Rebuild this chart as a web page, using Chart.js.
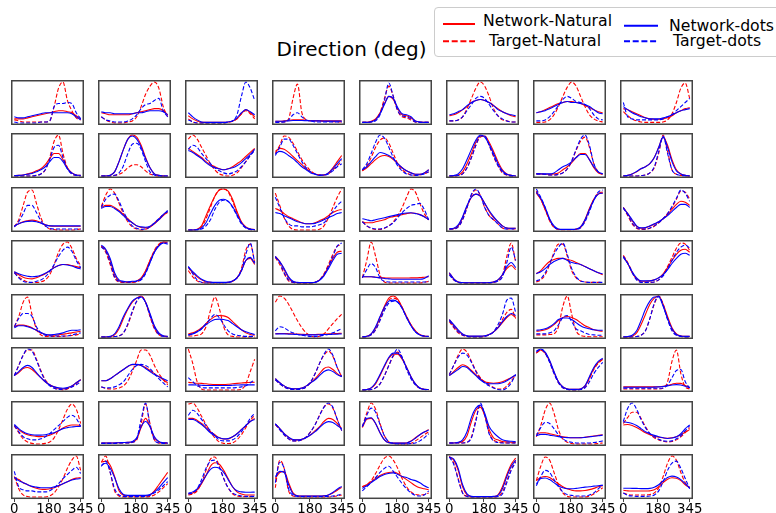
<!DOCTYPE html>
<html>
<head>
<meta charset="utf-8">
<script src="https://cdn.jsdelivr.net/npm/chart.js@4"></script>
<style>
  body { margin: 0; width: 776px; height: 513px; overflow: hidden; position: relative; background: #fff;
         font-family: 'DejaVu Sans', sans-serif; }
  .panel { position: absolute; }
  #title { position: absolute; left: 0; top: 37px; width: 703px; text-align: center; font-size: 20px; line-height: 24px; color: #000; }
  #legend { position: absolute; left: 434px; top: 7px; width: 400px; height: 50px; box-sizing: border-box;
            border: 1px solid #ccc; border-radius: 4px; background: #fff; }
  #legend span { position: absolute; font-size: 15.7px; line-height: 18px; color: #000; white-space: nowrap; }
</style>
</head>
<body>
<div id="title">Direction (deg)</div>
<div id="legend">
  <svg width="400" height="50" style="position:absolute;left:-1px;top:-1px">
    <line x1="9" y1="17" x2="41" y2="17" stroke="#ff0000" stroke-width="2"/>
    <line x1="9" y1="34.3" x2="41" y2="34.3" stroke="#ff0000" stroke-width="2" stroke-dasharray="6,2.7"/>
    <line x1="190" y1="18.7" x2="224" y2="18.7" stroke="#0000ff" stroke-width="2"/>
    <line x1="190" y1="34.3" x2="224" y2="34.3" stroke="#0000ff" stroke-width="2" stroke-dasharray="6,2.7"/>
  </svg>
  <span id="lg0" style="left:48px;top:4px"></span>
  <span id="lg1" style="left:54px;top:24px"></span>
  <span id="lg2" style="left:234px;top:9px"></span>
  <span id="lg3" style="left:238px;top:24px"></span>
</div>
<script>
// sampled directions (deg) and axis ticks
var directions = [0, 23, 46, 69, 92, 115, 138, 161, 184, 207, 230, 253, 276, 299, 322, 345];
var xTicks = [0, 180, 345];
var legendLabels = ['Network-Natural', 'Target-Natural', 'Network-dots', 'Target-dots'];

// responses per panel (row-major, 8x8), scaled 0..20
var networkNatural = [
  // row 1
  [2,2,2,2.5,3,3.5,4,4.5,5,5.5,6,6,5.5,5,3.5,2],
  [5,4.5,4,4,4,4,4,4.5,5,5.5,6,6.5,7,7,6,4],
  [3.5,2,1,0.3,0.3,0.3,0.3,0.3,0.3,0.5,1,2,4.5,6.5,5,3],
  [0.8,0.8,1,1.3,1.5,1.5,1.5,1.3,1.2,1.2,1.1,1,1,1,1,1],
  [0.3,0.3,0.8,2,5,9.5,13,11.5,7,4,3.5,2.5,1,0.5,0.3,0.3],
  [3.5,4,5,6.5,8,10,11,11.5,11,10,8.5,7,5.5,4.5,3.5,3],
  [5,5.5,6.5,7.5,8.5,9.5,10,10.5,10.5,10,9.5,8.5,7.5,6.5,5.5,5],
  [7,6.5,5.5,4.5,3.5,2.5,2,1.8,1.8,2,2.5,3.5,5,6,7,7.5],
  // row 2
  [0.2,0.3,0.5,1,1.5,2.5,3.5,5.5,8.5,11,11,8,4,1.5,0.5,0.3],
  [0,0,0.3,2,7,13,18,20,19,15,9,4,1,0.3,0,0],
  [13.5,12,10.5,9,7,5.5,4.5,3.5,3,3.5,4.5,6,7.5,9.5,11.5,13.5],
  [12,13.5,13,11.5,9.5,7.5,5.5,3.5,2,1,0.5,0.5,1.5,4,7,10],
  [2.5,4,6,8,9.5,10,9.5,8,6,4,2.5,1.5,0.8,0.8,1.5,3],
  [0,0,0.5,2,6,11,16.5,19.5,19.5,16.5,12,7,3,1,0.3,0],
  [1,1,0.8,0.8,1,1.5,3,4.5,6.5,9,11,11,8,4,1.5,0.8],
  [0,0.3,1,2,3.5,4.5,6,9,14,19,15,8,3,1,0.3,0],
  // row 3
  [2,3,4,4.5,4.8,4.5,3.5,2.5,2,1.8,1.8,1.8,1.8,1.8,1.8,1.8],
  [11,12,12,11,9.5,7.5,5.5,3.5,2,1.2,1,1.5,3,5,7,9],
  [0,0,0.3,2,7,12,16.5,19.5,20,19,15,9,4,1.5,0.5,0.2],
  [10.5,9.5,8,6.5,5.5,4.5,3.5,3,3,3.5,4.5,5.5,7,8.5,9.5,10],
  [4,3.5,3.5,4,4.5,5,6,6.5,7,7.5,8,8.3,8.2,7.5,6.5,5],
  [0.5,0.6,2,6,11.5,16,17.5,16.5,13,9,6,4,2,1,0.8,0.8],
  [18,15,10,5,1.5,0.3,0.2,0.2,0.2,0.3,1.5,5,10.5,15,17.5,18],
  [11,8,4.5,1.8,0.8,1,1.8,2.8,4,5.5,7.5,10,12.5,14,13.5,12],
  // row 4
  [5.5,4,2.8,2.2,2,2.5,3.5,4.5,6,7.5,8.5,9,9,8.5,8,7.5],
  [18,16,11,4,1,0.5,0.5,0.5,1,2.5,6,11,15.5,18.5,20,20],
  [7.5,5,3,1.5,0.5,0.3,0.2,0.2,0.2,0.3,1,2.5,6,11,12,9],
  [13,10.5,6.5,2.5,0.5,0.2,0,0,0,0.3,1.5,4,8,12,15,15.5],
  [3,3,3,2.8,2.6,2.5,2.4,2.4,2.4,2.4,2.4,2.5,2.5,2.6,2.8,3],
  [5,2,0.5,0.2,0.1,0.1,0.1,0.1,0.1,0.2,0.5,1.5,4,7,8.5,6.5],
  [4.5,6,8.5,10.5,11.5,12,12,11.5,11,10,9,8,7,6,5,4],
  [13,9.5,5,2,1,0.8,1,1.5,2.5,4.5,7.5,11,14,16,16.5,15],
  // row 5
  [5,5.8,5.8,5.3,4.5,3.2,2,1.2,0.8,0.8,1,1.3,1.7,2,2.4,2.8],
  [0,0,0.2,1,4,9,13.5,17,19,20,17,11,5,1.5,0.5,0.2],
  [1.5,2,3,4.5,6.5,8.5,10,10.5,10.3,9.5,7.5,5.5,3.5,2,1.2,0.8],
  [1.6,1.7,1.7,1.6,1.5,1.4,1.3,1.2,1.2,1.2,1.3,1.4,1.5,1.6,1.7,1.8],
  [0,0.3,1.5,4.5,9.5,15,19,20,18.5,14.5,10,6,3,1.2,0.5,0.3],
  [8.5,5.5,3,1.3,0.5,0.3,0.3,0.3,0.5,1.2,2.5,4.5,7,9.5,11,9.5],
  [2.8,3,3.5,4.5,6,8,9.5,10,9.5,8.5,7,5.5,4.5,3.5,3,2.8],
  [0,0,0.3,2,6,11,16,19,20,16,10,4.5,1.5,0.5,0.3,0.3],
  // row 6
  [7,8.5,10.5,11,10,8,6,4,2.5,1.5,0.8,0.5,1,2,3.5,5],
  [4.5,4.5,5.5,7,8.5,10,11.5,12.3,12.3,12,11,9.5,8,6.5,5,3.5],
  [3.7,3.5,3.3,3.2,3,2.8,2.7,2.7,2.7,2.8,3,3.2,3.4,3.6,3.7,3.8],
  [5.5,3.5,2,1,0.6,0.6,1,2,3.5,5.5,8,10.5,11.2,10,8,6.5],
  [0,0.2,1,3,7,11.5,15.5,17.5,17.5,15,11,6.5,3,1,0.3,0.2],
  [7,9,11,12.3,11.5,9.5,7.5,5.5,4,3.5,3.3,3.5,4,5,6,7.3],
  [18,19.5,18,14,8.5,4,1.5,0.5,0.3,0.3,0.5,2,6,10.5,13.5,15],
  [1.5,1.5,1.5,1.5,1.5,1.5,1.5,1.5,1.6,1.8,2.2,2.8,3.3,3.2,2.2,1.2],
  // row 7
  [8.5,7,5.5,4.5,4,3.7,3.6,3.8,4.3,5.2,6.5,7.8,8.8,9.3,9.3,9],
  [0.5,0.5,0.5,0.5,0.6,0.7,0.8,1,2.5,8,12.5,8.5,3,1,0.6,0.5],
  [12.5,12.5,11.5,10,8,6,4.5,3,2.4,2.5,3.5,5,7,9,11,12.5],
  [9.8,7.5,5,3.3,2,2,2.3,3.2,4.5,6.5,8.5,11,12.5,12,10,7.5],
  [8,12,12.5,10,5.5,2,0.6,0.4,0.4,0.4,0.5,1.5,3,4.5,5.8,7],
  [0.5,0.5,0.7,1.2,4,11,16.5,18,14,7,3,2,1.2,1,0.8,0.7],
  [4.8,5.5,5.5,5,4.5,4,3.5,3.2,3,3,3.1,3.3,3.6,3.9,4.2,4.5],
  [9.3,9.5,9,8,6.8,5.5,4.5,3.8,3.3,3,2.8,3,3.5,4.5,5.8,7],
  // row 8
  [9.5,8.5,7,6,5,4.3,3.8,3.7,4,4.5,5.5,6.5,7.5,8.5,9.2,9.5],
  [17,17.5,15.5,10,3,0.8,0.5,0.5,0.5,0.5,0.5,1,3,6,9,12],
  [1.5,2,3.5,6.5,10.5,15,16.7,16,13,9,5,2.5,1.5,1,1,1],
  [9,12,12.5,7,2,0.6,0.5,0.5,0.5,0.5,0.5,0.6,1,2,3.3,4.7],
  [5,6,7.5,9,10.5,11.5,12,12.2,11.5,10,8.5,7,5.5,4.5,4,3.5],
  [19.5,18,13,5,1,0.2,0.1,0.1,0.1,0.1,0.2,1,5,11,16,19],
  [8,9.5,10,9.5,8,6.5,5,4,3.3,3,3,3.2,3.6,4.2,5,5.5],
  [3.3,3,2.9,2.9,2.9,2.9,3,3.5,5,7,8.7,9.4,9.2,8,6,4.5]
];

var targetNatural = [
  // row 1
  [1.5,1,0.5,0.5,0.5,0.5,0.5,0.5,1,8,17,20,11,6,2.5,1.5],
  [3,1.5,0.5,0,0,0,0.5,1,3,8,14,18,20,17,8,3],
  [2,0.5,0,0,0,0,0,0,0,0.3,0.8,2,4.5,6,4.5,2],
  [0.5,0.5,0.5,2,12,19,5,1.5,1,1,1,0.8,0.7,0.6,0.5,0.5],
  [0.3,0.3,0.5,1.5,5,12,18,13,6,3,2.5,1.5,0.5,0.3,0.3,0.3],
  [1,1,1.5,3,7,12,17,20,18,13,7,3.5,1.5,1,0.5,0.5],
  [0.3,0.3,0.5,1.5,4,8,13,17.5,20,18,13,8,4,2,1,0.5],
  [5.5,3.5,2,1,0.5,0.3,0.3,0.3,0.3,0.5,1.5,4.5,10,17,19.5,12],
  // row 2
  [0,0,0,0,0,0.3,1,3,9,17,20,11,4,1,0.3,0],
  [0,0,0,0.3,0.8,2,4,5.3,5.5,4.5,2.5,1,0.3,0,0,0],
  [18,20,18,14,10,6,3,1,0.3,0,0.3,1.5,4,7,10,13],
  [11,15,19.5,19,16,12,8,5,2.5,1,0.5,0.5,1,3,5,7.5],
  [2.5,5,9,14,17.5,18.5,16,11,6,3,1.5,0.5,0.3,0.5,1,2],
  [0,0,0.2,1,4,9,15,19,19.5,15,9.5,5,1.5,0.5,0,0],
  [1,1,0.8,0.5,0.5,0.8,1.5,3.5,7,12.5,17,19,14,6,2,0.8],
  [0,0,0,0,0.2,0.5,1.5,4,11,20,12,3,0.8,0.3,0,0],
  // row 3
  [1.5,5,12,18.5,19.5,13,6,2,0.5,0.2,0,0,0,0,0.2,0.5],
  [11.5,17,20,18,13,8,4,1.5,0.5,0,0.3,1.5,3.5,5.5,7.5,8.5],
  [0,0,0.2,1.5,5.5,11,16.5,19.5,20,18.5,14,8.5,3.5,1,0.3,0],
  [18,12,6,2,0.3,0,0,0,0,0,0.3,2,6,11,16,20],
  [4,2,0.8,0.3,0.3,0.8,2,4,7,11,16,20,18.5,13,8,5],
  [0.5,0.5,1.5,5,11,17,19.5,17,11,7,5,3,1,0.5,0.5,0.5],
  [19,15,10,4.5,1.3,0.2,0.1,0.1,0.1,0.3,1.2,4.5,10,15,18,18.5],
  [11,7,3,0.8,0.3,0.3,0.8,1.8,3.5,5.5,8,11,15,19,18.5,15],
  // row 4
  [5,3,1.5,0.5,0.2,0.2,0.5,1.5,4,9,15,19,20,17,12,8.5],
  [18,15,9,2.5,0.5,0.3,0.3,0.3,0.5,2,5.5,11,16,19,20,19.5],
  [6,3,1,0.2,0,0,0,0,0,0.2,0.8,2.5,7,16,19,10],
  [12.5,9,4.5,1,0.2,0,0,0,0,0.3,1.5,4.5,9,14,18,18.5],
  [2.5,11,20,13,4,0.5,0,0,0,0,0,0,0,0,0.3,0.8],
  [4.5,1.5,0.3,0,0,0,0,0,0,0,0.3,1,3.5,13,19.5,10],
  [0.5,1.5,4,9,15,19,19,13,6,2.5,1,0.5,0.3,0.3,0.3,0.3],
  [13.5,10,5.5,2,0.5,0.3,0.3,0.5,1.5,4,8,12.5,17,19.5,19,16],
  // row 5
  [5,10,17,19.5,11,4,1,0.3,0.2,0.2,0.2,0.3,0.5,0.7,1,1.5],
  [0,0,0,0.2,0.5,2,6,12,17.5,20,17,10,4,1,0.3,0],
  [0.5,0.5,0.8,1.5,5,13,19.5,14,5,1,0.3,0,0,0,0,0],
  [17,20,19,16,12,8,4.5,2,0.5,0,0.3,1.5,4,6.5,9,11],
  [0,0.2,1,3.5,8.5,14,18,19,18,14.5,10,6,3,1,0.3,0.2],
  [7.5,4.5,2,0.8,0.3,0,0,0,0.3,1,2.5,5,8.5,12,13.5,9],
  [1,1,1,1.2,1.5,5,15,20,11,3,0.8,0.3,0.1,0.1,0.1,0.1],
  [0,0,0,0.2,0.8,3,9,16,20,16,9,3.5,1,0.3,0,0],
  // row 6
  [7,12,17,19.5,19.5,15,9.5,5,2.5,1,0.3,0,0.5,1.5,3,5],
  [1.5,0.8,0.5,0.5,1,2,4.5,9,14.5,19.5,19.5,17,12,8,5,2.5],
  [20,13,4,0.5,0,0,0,0,0,0,0,0,0.3,3,9,15],
  [5,3,1.5,0.5,0.2,0.2,0.5,1.5,4,8,13,17,19,16.5,11,6.5],
  [0,0,0.2,1,3,7,12,16.5,18.5,16,11,6,2.5,0.8,0.2,0.1],
  [7.5,12,17,20,18.5,14,9.5,6,4,2.5,1.2,0.5,0.5,2,4.5,7],
  [18,19.5,18,14,8.5,3.5,1,0.3,0,0,0.3,1.5,5.5,10,13,15],
  [0.5,0.5,0.5,0.5,0.5,0.5,0.5,0.5,0.5,0.8,4,14,19.5,8,1.5,0.5],
  // row 7
  [9,5.5,2.5,1,0.3,0,0,0.3,1,3,7,12,17,19.5,17,10],
  [0.3,0.3,0.3,0.3,0.5,0.5,0.5,0.8,2,10,19.5,10,2,0.5,0.3,0.3],
  [19.5,20,17.5,13.5,9.5,6,3,1,0.3,0.2,0.5,2,4.5,8,11.5,14],
  [9.5,7,4.5,2.5,1.5,1.5,2,3.5,6,9.5,14,18,19.5,17.5,12,6.5],
  [8.5,15,20,17,10,4,1,0.2,0,0,0,0.3,1.5,3,4.5,6],
  [0.5,0.5,0.5,0.5,0.8,3.5,12,19,14,5.5,2,1,0.7,0.5,0.5,0.5],
  [3.5,9,16.5,20,15,7,2.5,0.8,0.2,0,0,0,0,0,0.2,0.5],
  [10,13,15.5,15.5,12.5,8.5,5,3,2,1.3,1,1.2,2,3.5,5.5,8],
  // row 8
  [10,4,1,0.2,0,0,0,0,0.5,2,5,9,14,18,20,13],
  [17,20,12,3,0.5,0,0,0,0,0,0,0.3,1,2.5,4.5,6.5],
  [1,1.5,3,7,13,18.5,19.5,15,9,4.5,1.5,0.5,0.2,0.2,0.2,0.2],
  [4.5,18,14,3,0.5,0.2,0,0,0,0,0,0,0,0.2,0.5,1],
  [5,6,8,11.5,15.5,19,20,18,14,9,5,2.5,1.2,1,1.2,2],
  [20,16.5,9,2,0.3,0,0,0,0,0,0,0.3,2.5,8,13.5,17.5],
  [8,15,19.5,18,12,6,2,0.3,0,0,0,0,0.5,1.5,3,4.5],
  [2,1.2,1,1,1,1,1.2,2,4.5,10,16.5,20,18,12,7,4.5]
];

var networkDots = [
  // row 1
  [3,2.5,2.5,3,3.5,4,4.5,5,5,5,5,5,5,4.5,3,1.5],
  [5.5,5,5,4.5,4.5,4.5,4.5,4.5,5,5,5.5,6,6,6,5.5,4],
  [5,3,1.5,0.5,0.3,0.3,0.3,0.3,0.3,0.5,1,2.5,5,6.5,5.5,4],
  [0.8,0.8,0.9,1,1.2,1.2,1.2,1.1,1,1,1,0.9,0.9,0.9,0.9,0.9],
  [0.3,0.3,0.6,1.5,4.5,9,13,12,7.5,4.5,4,3,1,0.5,0.3,0.3],
  [4,4.5,5.5,6.5,8.5,10,11,11.5,11,10,8.5,6.5,5.5,4.5,4,3.5],
  [5,5.5,6,7,8,9,10,10.5,10,10,9.5,9,8,6.5,5,4.5],
  [8,6.5,5,4,3,2.5,2,2,2,2.5,3,4,5,6,6.5,7],
  // row 2
  [0.2,0.3,0.5,0.8,1.2,2,3,4.5,7,9,9,7,3.5,1.5,0.5,0.3],
  [0,0,0.3,2,7,13,18,19.5,18,14,8.5,4,1,0.3,0,0],
  [12.5,11.5,10,8.5,6.5,5,4,3.5,3,3.5,4,5,6.5,8.5,10.5,13],
  [11,12,11.5,10,8.5,6.5,4.5,3,1.5,0.8,0.3,0.5,1.5,3.5,6,8.5],
  [3,4.5,7,9.5,11.5,11,10,8.5,6,4,2.5,1.5,0.8,0.8,1.5,3],
  [0,0.2,1,3.5,8,13,17.5,20,19,15.5,11,6,2.5,0.8,0.3,0],
  [1,1,1,1,1.5,3,4.5,5.5,7,9,10.5,10.5,8,4.5,2,1],
  [0,0.3,1,2.2,3.5,4.5,6,9,14,19,14,7,2.5,1,0.3,0],
  // row 3
  [2,3,3.8,4.2,4.3,4,3.3,2.5,2,2,2,2,2,2,2,2],
  [10.5,11.5,11.5,10.5,9,7,5,3.5,2,1.5,1.3,1.8,3.2,5,7.5,9.5],
  [0,0,0.2,1,3.5,8,12,14.5,15,14,11.5,7.5,3.5,1.2,0.4,0.2],
  [8.5,8,7,6,5,4,3.5,3,3,3.2,4,5,6,7,8,8.5],
  [5.5,5,4.5,5,5.5,6,6.5,7,7.5,8,8.3,8.4,8,7.5,6.5,5],
  [0.5,0.8,2.5,6.5,12,16,17.5,16.5,13,9.5,6.5,4,2,1,0.8,0.8],
  [18.5,15.5,11,5.5,2,0.5,0.3,0.3,0.3,0.5,1.5,5,10,14.5,17.5,18],
  [10.5,8,5,2,1,1.2,2,3,4,5.5,7,9,11,12.5,12.5,11],
  // row 4
  [5.5,4.5,3.8,3.3,3,3.2,3.8,4.8,6,7.5,8.5,9,8.8,8.3,7.5,6.8],
  [18.5,16.5,12,5,1.5,0.8,0.5,0.8,1,2,5,10,15,18,19.5,19],
  [8,5.5,3.5,1.8,0.8,0.4,0.3,0.3,0.3,0.4,1,2.5,6,11,12.5,9.5],
  [12.5,10.5,7,3,0.8,0.3,0.2,0.2,0.2,0.3,1.3,3.5,7,11,14,14.5],
  [3,3,3,2.8,2.5,2.2,2,1.8,1.8,1.8,1.8,1.8,1.8,1.8,2.2,3.5],
  [5,2,0.5,0.2,0.1,0.1,0.1,0.1,0.1,0.2,0.5,1.5,4,8,10,7.5],
  [4.5,5.5,7,9,10.5,11.5,12,11,10,9.5,9,8,7,6,5,4.5],
  [12.5,9.5,5.5,2.5,1,1,1,1.5,2.5,4,6.5,9.5,12,14,14.5,13.5],
  // row 5
  [4.5,5.5,5.5,5,4.3,3.3,2.2,1.3,1,1.2,1.5,2,2.8,3.3,3.2,3.5],
  [0,0,0.3,1.5,5,10,14,17.5,19,19.5,17,11.5,5.5,2,0.6,0.3],
  [1,1.5,2.5,4,6,7.5,8.5,8.7,8.5,8,6.5,5,3.5,2.5,1.8,1.2],
  [1.5,1.5,1.5,1.4,1.3,1.2,1,1,1,1,1.1,1.2,1.2,1.3,1.4,1.5],
  [0,0.3,1.5,5,10,14.5,17.5,18,17,14,9.5,5.5,2.5,1,0.5,0.3],
  [8.5,6,3.5,1.5,0.6,0.4,0.4,0.4,0.6,1.2,2.5,4.5,7.5,10,11.5,10.5],
  [3.3,3.5,4,5,6.5,8.5,9.3,9.3,8.5,7,5.5,4.5,4,3.5,3.3,3.3],
  [0,0.2,0.8,3,8,13.5,17.5,19.5,19.5,15,9,4,1.2,0.5,0.3,0.3],
  // row 6
  [7,9,11,12,11,8.5,6,4,2.5,1.5,1,0.8,1.2,2,3.5,5],
  [4.5,4.5,5.5,7,8.5,10,11.5,12.5,12.5,12,10.5,9,7.5,6.5,5.5,4.5],
  [2.5,2.5,2.4,2.3,2.2,2.2,2.2,2.2,2.2,2.2,2.3,2.4,2.5,2.5,2.5,2.5],
  [5.5,3.5,2,1,0.6,0.6,1,2,3.5,5,7,9,9.8,9,7.5,6.5],
  [0,0.2,1,3.5,7.5,12,16,18,18,15.5,11,6.5,3,1,0.3,0.2],
  [7,8.5,10,11.5,11,9,7,5,3.5,3,3,3,3.5,4.5,6,7.5],
  [18.5,20,18.5,14.5,9,4,1.5,0.5,0.3,0.3,0.5,2,6.5,11,14,15.5],
  [1.3,1.3,1.3,1.3,1.3,1.3,1.3,1.4,1.5,1.7,2,2.4,2.6,2.4,1.8,1],
  // row 7
  [9.5,7.5,6,5,4.5,4.3,4.3,4.5,5,5.5,6.5,7.5,8,8.3,8.5,8.5],
  [0.5,0.5,0.5,0.5,0.6,0.7,0.8,1.2,3,8.5,11,8.5,3.5,1.2,0.6,0.5],
  [12,12,11,9.5,7.5,5.5,4,3,2.5,2.6,3.5,5,7,9,11,12],
  [9.8,7.5,5,3.3,2.2,2,2.3,3.2,4.5,6,8,10,10.9,10.5,9,7.5],
  [8.5,12.5,12.8,10,5.5,2,0.6,0.4,0.4,0.4,0.5,1.3,2.8,4.5,5.8,6.8],
  [0.5,0.5,0.8,2,6,13,17.5,19,15,8.5,5.5,3.5,2,1.5,1.3,1.2],
  [4,4.7,4.7,4.3,4,3.6,3.3,3.1,3,3,3,3.2,3.5,3.8,4,4.3],
  [10.8,10.5,10,9,7.5,6,5,4.2,3.5,3,2.7,2.9,3.5,5,7.5,9.3],
  // row 8
  [9.5,8,7,6,5.2,4.8,4.5,4.5,4.5,5,5.5,6.5,7.5,8.3,8.8,9],
  [15.5,16.5,14,9.5,4,1.2,0.8,0.8,0.8,0.8,0.8,1.2,2.5,4.5,7,9.5],
  [1.8,2.5,4,7,10.5,13.5,14.5,14,12,8.5,5,3,2.5,2.3,2.3,2.4],
  [10,12.5,12,6,1.5,0.6,0.5,0.5,0.5,0.5,0.5,0.6,1,2.2,3.8,5.2],
  [4.2,5.5,7,8.5,10,11,11.5,11.8,11,10,9.5,8.5,8,7,5.5,4.5],
  [19.5,18.5,14,6,1.5,0.3,0.2,0.2,0.2,0.2,0.3,0.8,4,10,15,18],
  [6.5,9,9.3,8.5,7,5.5,4.5,4,4,4.2,4.5,4.8,5,5.3,5.5,5.8],
  [4.3,4.3,4.2,4.2,4.1,4.1,4.2,4.8,6,7.8,9.5,10.2,9.8,8.5,6.5,4.3]
];

var targetDots = [
  // row 1
  [0.5,0,0,0,0,0,0.5,0.5,1,8,9.5,9.5,10,9.5,5,2],
  [3,1.5,1,0.5,0.5,0.5,1,2,4,7,9,9.5,11,12,6,3],
  [1.5,0.5,0,0,0,0,0,0,0,0.5,1,4,13,20,17,11],
  [0.3,0.3,0.5,1.5,4,5,3,1.5,1,0.5,0.5,0.5,0.5,0.5,0.5,0.5],
  [0.3,0.3,0.5,1,4,11,19.5,13,6,3.5,3,2,0.5,0.3,0.3,0.3],
  [1,1,1.5,3,6,9,12,13,12,9,6,3.5,2,1,0.5,0.5],
  [1,1,1.5,3,5.5,8.5,11.5,13,12,10.5,10,9,7,4,2,1.5],
  [10,3,2,1.5,1.5,1.5,1.5,1.5,1.5,2,3,4,6,8,10,12],
  // row 2
  [0,0,0,0,0,0.3,1,3,8,14,15,9,3.5,1,0.3,0],
  [0,0,0,0.3,1.5,5,11,15.5,16,13,7,2,0.5,0,0,0],
  [13,15,14,11,8.5,6,4,2.5,1.5,1,1.5,2.5,4.5,7,10,12.5],
  [10,14,18,18,15,11,7,4,2,1,0.5,0.5,1,2.5,4.5,6],
  [3,6,11,16.5,20,18.5,14,9,5,2.5,1,0.5,0.3,0.5,1,2],
  [0,0,0.2,1,4,9,15,19.5,19.5,15,10,5,2,0.5,0,0],
  [1,1,0.8,0.5,0.5,0.8,1.5,3.5,7.5,13,18,20,15,6,2,1],
  [0,0,0,0,0.2,0.5,1.5,4.5,12,19.5,11,3,0.8,0.3,0,0],
  // row 3
  [1.5,4,8,12,12,8.5,4.5,2,0.8,0.5,0.5,0.5,0.5,0.5,0.5,0.5],
  [11,15,17,17.5,14,9,5,2,0.8,0.3,0.5,1.5,3.5,5.5,7.5,9],
  [0,0,0,0.5,2,5,10,13.5,14.5,14,11,7,3,1,0.3,0],
  [16,11,6,3,2,2,1.5,1.5,1.5,2,2.5,3.5,6,9,12,14],
  [4,2,1,0.5,0.5,1,2,3.5,6,8.5,10.5,12,12.5,13,10,5],
  [0.5,0.5,1.5,5,11,17.5,20,17,11,7,5,3,1,0.5,0.5,0.5],
  [20,16,11,5,1.5,0.3,0.2,0.2,0.2,0.3,1,4,9,14.5,18.5,19.5],
  [11,7.5,3.5,1,0.5,0.5,1,2,3.5,5.5,8,11.5,15.5,19.5,18,14],
  // row 4
  [5,2.5,0.8,0.3,0.3,0.8,1.5,3,5.5,9,13,16,17.5,15.5,11,7.5],
  [17.5,15.5,10,3,0.8,0.5,0.5,0.5,0.8,1.5,4.5,10,15,18.5,19.5,19.5],
  [8,4.5,1.5,0.3,0,0,0,0,0,0.2,0.8,2.5,6,14,19.5,10],
  [13,10,5,1.5,0.3,0,0,0,0,0.3,1.5,4,8,13,18,19.5],
  [2.5,6.5,9.5,7.5,2.5,0.8,0.5,0.5,0.5,0.5,0.5,0.5,0.5,0.5,0.5,0.8],
  [4,1.5,0.3,0,0,0,0,0,0,0,0.3,1,3,10,17.5,11],
  [1,2,5,9.5,14,17.5,19.5,14,7,3,1,0.5,0.3,0.3,0.3,0.3],
  [13,9.5,5,1.5,0.3,0.2,0.3,0.5,1.5,3.5,7,11,15,17.5,18.5,17],
  // row 5
  [5,9,11.5,11.5,10,5,2,0.8,0.5,0.5,0.5,0.5,0.5,1,1.5,2],
  [0,0,0,0.2,0.5,2,6.5,12.5,17.5,19.5,17,10.5,4.5,1.2,0.3,0],
  [1,1.5,2.5,4,6.5,9,11,9.5,6,3,1.5,0.8,0.5,0.3,0.3,0.3],
  [3,5,4.5,3,2,1.2,0.8,0.5,0.3,0.3,0.5,0.8,1.2,2,3,4],
  [0,0.2,1,3.5,8,13,16.5,17.5,17,14,9.5,5.5,2.5,1,0.3,0.2],
  [8,5,2.5,1,0.3,0,0,0,0.3,1,2.5,6,11,18,19,12],
  [1.5,1.5,1.5,2,3,6,9.5,10.5,7.5,4,3,2,1.2,1,0.8,0.8],
  [0,0,0,0.2,0.8,3,9,16.5,20,15.5,8.5,3,0.8,0.3,0,0],
  // row 6
  [7,12,17,20,19,14.5,9,4.5,2,0.8,0.3,0.3,0.8,1.5,2.5,4],
  [1.5,1,1,1.5,2.5,4,7,10,12,12.5,12,10.5,8,5.5,3.5,1.5],
  [6,4,2,1.2,1,1,1,1,1,1,1,1.2,1.5,2,3.5,5],
  [5,3,1.5,0.5,0.2,0.2,0.5,1.5,4,8,13,17.5,20,17,11,6.5],
  [0,0,0.2,1,3,7,12,17,20,16,10,5.5,2.5,0.8,0.2,0.1],
  [7.5,12,16,18,17,13.5,9,5.5,3.5,2,1,0.2,0,1,3.5,7.5],
  [19,20,18,13.5,8,3.5,1,0.3,0,0,0.2,1,4,8,11,13.5],
  [0.8,0.8,0.8,0.8,0.8,0.8,0.8,0.8,0.8,1,2.5,6,9.5,10,4,1],
  // row 7
  [9,6,3.5,2.5,2,2,2.5,3.5,5,7,9,11,13,14,12.5,8.5],
  [0.3,0.3,0.3,0.3,0.5,0.5,0.5,0.8,2.5,12,20,9,2,0.5,0.3,0.3],
  [14,16.5,15,12,9,6.5,4,2,1.5,1.5,2,3.5,6,9,12.5,15],
  [9.8,7,4.5,2.5,1.5,1.5,2,3.5,6,9.5,14,18,20,18,12,6.5],
  [8.5,14,17.5,15.5,9.5,4,1,0.3,0,0,0,0.2,0.5,1.5,3,5],
  [0.5,0.5,0.5,0.5,0.8,3,11,20,14,5,1.5,0.7,0.5,0.5,0.5,0.5],
  [4,8,10.5,10,7.5,4.5,2.5,1.3,0.8,0.5,0.5,0.5,0.5,0.7,1,1.5],
  [11,17.5,20,17,12,8,5,3.5,2.3,1.5,1.3,1.5,2.5,4,6.5,9],
  // row 8
  [12.5,5,3.5,3,3,2.5,2.5,2.5,3,4.5,6.5,9,11,13,14.5,11.5],
  [15,17.5,12,4,1,0.3,0.2,0.2,0.2,0.2,0.3,0.8,2,3.5,5.5,7.5],
  [1.5,2,4,8.5,14,17.5,18,14.5,9,4.5,2,1,0.5,0.3,0.3,0.3],
  [7,17,14,4,0.8,0.3,0.2,0.2,0.2,0.2,0.2,0.2,0.3,0.5,0.8,1.5],
  [3,5,7,9.5,12,14,15,12.5,9.5,6.5,4,2,0.8,0.5,1,3],
  [19.5,16,8.5,2,0.3,0,0,0,0,0,0,0.2,1.5,7,13,17],
  [5.5,10,13,12,8.5,5,2.5,1.2,0.8,0.5,0.5,0.5,1,2,4,5.8],
  [2,0.8,0.5,0.3,0.3,0.3,0.5,1,3,7.5,13,16.5,17.5,14,9,4]
];

Chart.defaults.font.family = "'DejaVu Sans', sans-serif";
Chart.defaults.color = '#000';

legendLabels.forEach(function (t, i) { document.getElementById('lg' + i).textContent = t; });

var RED = '#ff0000', BLUE = '#0000ff';
var colLeft = [11, 98, 185, 272, 359, 446, 533, 620];
var rowTop = [80, 133, 187, 240, 294, 347, 401, 454];
var PW = 73, PH = 45, PADX = 14, PADY = 2, AXIS_H = 19;

// frame around each small axes
var boxPlugin = {
  id: 'box',
  afterDraw: function (chart) {
    var a = chart.chartArea, ctx = chart.ctx;
    ctx.save();
    ctx.strokeStyle = '#444';
    ctx.lineWidth = 1.5;
    ctx.strokeRect(a.left + 0.75, a.top + 0.75, a.right - a.left - 1.5, a.bottom - a.top - 1.5);
    ctx.restore();
  }
};

function series(values, color, dashed) {
  return {
    data: directions.map(function (d, i) { return { x: d, y: values[i] }; }),
    borderColor: color,
    borderWidth: 1.1,
    borderDash: dashed ? [4, 2] : [],
    pointRadius: 0,
    fill: false,
    cubicInterpolationMode: 'monotone'
  };
}

function makePanel(idx) {
  var r = Math.floor(idx / 8), c = idx % 8;
  var bottom = (r === 7);
  var cv = document.createElement('canvas');
  cv.className = 'panel';
  cv.width = PW + 2 * PADX;
  cv.height = PADY + PH + (bottom ? AXIS_H : PADY);
  cv.style.left = (colLeft[c] - PADX) + 'px';
  cv.style.top = (rowTop[r] - PADY) + 'px';
  document.body.appendChild(cv);

  new Chart(cv, {
    type: 'line',
    data: {
      // first dataset is drawn on top
      datasets: [
        series(targetDots[idx], BLUE, true),
        series(networkDots[idx], BLUE, false),
        series(targetNatural[idx], RED, true),
        series(networkNatural[idx], RED, false)
      ]
    },
    options: {
      responsive: false,
      animation: false,
      devicePixelRatio: 1,
      events: [],
      layout: { padding: { left: PADX, right: PADX, top: PADY, bottom: bottom ? 0 : PADY } },
      plugins: { legend: { display: false }, tooltip: { enabled: false } },
      scales: {
        x: {
          type: 'linear',
          min: -17.25,
          max: 362.25,
          display: bottom,
          afterBuildTicks: function (axis) {
            axis.ticks = xTicks.map(function (v) { return { value: v }; });
          },
          grid: { drawOnChartArea: false, drawTicks: true, tickLength: 3, color: '#444' },
          border: { display: false },
          ticks: {
            padding: 0,
            color: '#000',
            font: { size: 13.3 },
            maxRotation: 0,
            autoSkip: false,
            callback: function (v) { return String(v); }
          }
        },
        y: { display: false, min: -1, max: 21 }
      }
    },
    plugins: [boxPlugin]
  });
}

for (var i = 0; i < 64; i++) makePanel(i);
</script>
</body>
</html>
